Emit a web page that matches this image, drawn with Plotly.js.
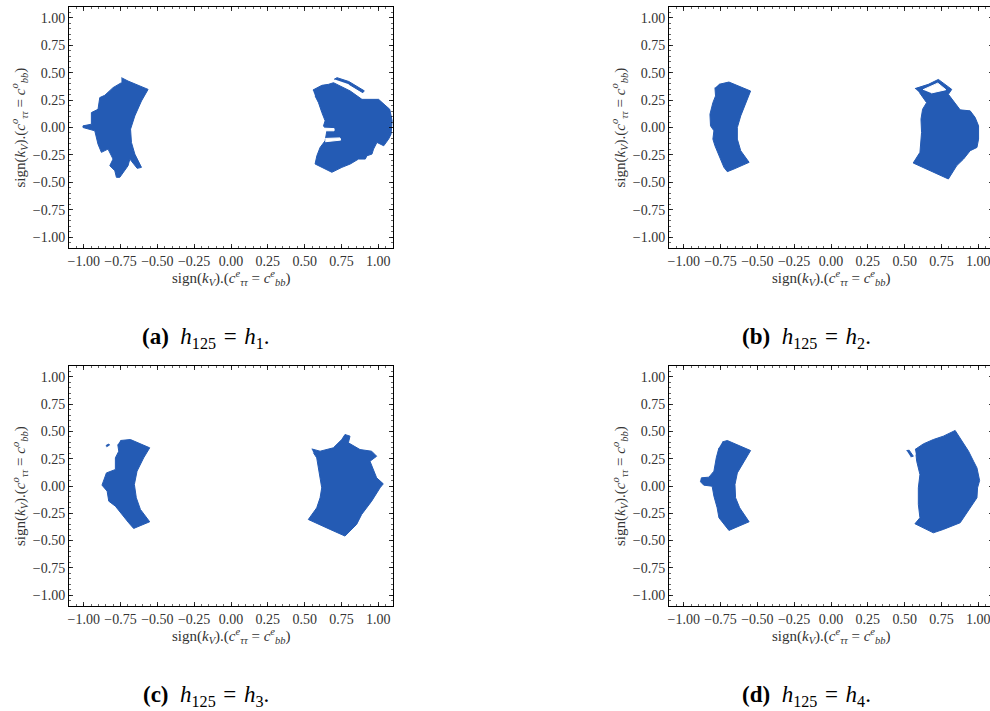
<!DOCTYPE html>
<html>
<head>
<meta charset="utf-8">
<script src="https://cdn.plot.ly/plotly-3.0.1.min.js"></script>
<style>
html,body{margin:0;padding:0;overflow:hidden;background:#fff;}
#chart{width:996px;height:711px;}
</style>
</head>
<body>
<div id="chart"></div>
<script>
// ---- Region outlines (data coordinates) ----
// Panel (a): h125 = h1
const aLeftX  = [-0.744,-0.699,-0.563,-0.608,-0.653,-0.682,-0.676,-0.653,-0.608,-0.637,-0.687,-0.699,-0.755,-0.778,-0.789,-0.812,-0.823,-0.801,-0.835,-0.880,-0.903,-0.925,-1.005,-1.005,-0.948,-0.948,-0.903,-0.891,-0.857,-0.801,-0.744];
const aLeftY  = [0.455,0.424,0.348,0.242,0.106,-0.015,-0.136,-0.243,-0.364,-0.373,-0.288,-0.349,-0.455,-0.455,-0.394,-0.364,-0.349,-0.288,-0.197,-0.227,-0.152,-0.030,0.000,0.015,0.030,0.136,0.166,0.273,0.294,0.364,0.409];
const aRightX = [0.556,0.617,0.662,0.696,0.810,0.889,1.002,1.037,1.078,1.094,1.087,1.070,1.037,0.991,0.968,0.957,0.923,0.912,0.866,0.810,0.753,0.685,0.617,0.571,0.583,0.605,0.639,0.651,0.628,0.639,0.617,0.594,0.571];
const aRightY = [0.342,0.385,0.394,0.409,0.333,0.257,0.257,0.212,0.166,0.061,-0.061,-0.106,-0.167,-0.136,-0.197,-0.243,-0.258,-0.288,-0.288,-0.333,-0.364,-0.409,-0.364,-0.333,-0.258,-0.182,-0.121,-0.030,0.015,0.061,0.136,0.227,0.288];
const aStreakX = [0.700,0.720,0.800,0.905,0.895,0.800];
const aStreakY = [0.440,0.455,0.420,0.335,0.318,0.395];
const aHole1X = [0.615,0.700,0.700,0.615];
const aHole1Y = [-0.005,-0.010,-0.030,-0.030];
const aHole2X = [0.640,0.740,0.745,0.640];
const aHole2Y = [-0.100,-0.095,-0.115,-0.130];

// Panel (b): h125 = h2
const bLeftX  = [-0.761,-0.693,-0.546,-0.579,-0.613,-0.636,-0.636,-0.613,-0.556,-0.659,-0.704,-0.727,-0.761,-0.788,-0.802,-0.795,-0.818,-0.822,-0.802,-0.784,-0.788];
const bLeftY  = [0.394,0.415,0.333,0.227,0.106,0.000,-0.106,-0.212,-0.318,-0.379,-0.403,-0.364,-0.258,-0.167,-0.106,-0.030,0.015,0.121,0.227,0.288,0.364];
const bRightX = [0.570,0.661,0.729,0.820,0.797,0.854,0.877,0.945,0.979,1.002,1.002,0.991,0.945,0.900,0.854,0.797,0.695,0.558,0.604,0.609,0.615,0.611,0.622,0.649,0.627,0.600];
const bRightY = [0.355,0.394,0.439,0.348,0.303,0.197,0.161,0.152,0.091,0.015,-0.106,-0.182,-0.212,-0.288,-0.348,-0.470,-0.409,-0.324,-0.227,-0.136,-0.045,0.076,0.167,0.227,0.273,0.320];
const bHoleX = [0.625,0.725,0.780,0.680];
const bHoleY = [0.345,0.405,0.345,0.315];

// Panel (c): h125 = h3
const cLeftX  = [-0.751,-0.683,-0.552,-0.593,-0.638,-0.656,-0.643,-0.615,-0.552,-0.661,-0.695,-0.740,-0.785,-0.830,-0.841,-0.876,-0.864,-0.846,-0.785,-0.785,-0.762,-0.769];
const cLeftY  = [0.417,0.426,0.350,0.258,0.136,0.014,-0.108,-0.215,-0.328,-0.389,-0.337,-0.261,-0.185,-0.139,-0.047,0.008,0.059,0.120,0.151,0.258,0.319,0.380];
const cDotX = [-0.850,-0.830,-0.825,-0.845];
const cDotY = [0.370,0.385,0.375,0.360];
const cRightX = [0.548,0.605,0.695,0.752,0.774,0.808,0.797,0.876,0.955,0.989,0.944,0.966,0.989,1.034,1.012,0.955,0.921,0.887,0.853,0.808,0.774,0.673,0.525,0.582,0.605,0.616,0.605,0.594,0.582,0.560];
const cRightY = [0.340,0.319,0.350,0.426,0.472,0.457,0.396,0.334,0.319,0.273,0.227,0.151,0.075,0.020,-0.017,-0.139,-0.200,-0.261,-0.352,-0.414,-0.459,-0.398,-0.307,-0.200,-0.108,-0.017,0.075,0.166,0.258,0.304];

// Panel (d): h125 = h4
const dLeftX  = [-0.738,-0.704,-0.546,-0.591,-0.636,-0.652,-0.648,-0.620,-0.556,-0.693,-0.716,-0.761,-0.773,-0.795,-0.807,-0.864,-0.886,-0.880,-0.829,-0.795,-0.779,-0.761];
const dLeftY  = [0.404,0.417,0.325,0.227,0.120,0.014,-0.108,-0.200,-0.328,-0.407,-0.368,-0.291,-0.200,-0.093,-0.002,0.008,0.038,0.075,0.081,0.136,0.258,0.350];
const dRightX = [0.570,0.627,0.695,0.763,0.843,0.877,0.934,0.968,0.991,1.009,0.995,0.991,0.945,0.911,0.877,0.763,0.695,0.570,0.604,0.593,0.593,0.604,0.582,0.577];
const dRightY = [0.334,0.386,0.426,0.457,0.509,0.441,0.319,0.227,0.166,0.050,-0.017,-0.108,-0.200,-0.276,-0.337,-0.398,-0.429,-0.346,-0.291,-0.169,-0.017,0.105,0.227,0.288];
const dStreakX = [0.513,0.531,0.559,0.541];
const dStreakY = [0.325,0.328,0.273,0.267];

const tickValues = [-1.00,-0.75,-0.50,-0.25,0.00,0.25,0.50,0.75,1.00];
const captions = ['(a)','(b)','(c)','(d)'];
const higgsIdx = ['1','2','3','4'];

// ---- Build ----
const BLUE = '#245bb4';
function poly(x, y, ax, color) {
  return {x: x, y: y, xaxis: 'x' + ax, yaxis: 'y' + ax, type: 'scatter', mode: 'lines',
          fill: 'toself', fillcolor: color, line: {color: color, width: 1},
          hoverinfo: 'skip', showlegend: false};
}
const data = [
  poly(aLeftX, aLeftY, '', BLUE), poly(aRightX, aRightY, '', BLUE), poly(aStreakX, aStreakY, '', BLUE),
  poly(aHole1X, aHole1Y, '', '#ffffff'), poly(aHole2X, aHole2Y, '', '#ffffff'),
  poly(bLeftX, bLeftY, '2', BLUE), poly(bRightX, bRightY, '2', BLUE), poly(bHoleX, bHoleY, '2', '#ffffff'),
  poly(cLeftX, cLeftY, '3', BLUE), poly(cDotX, cDotY, '3', BLUE), poly(cRightX, cRightY, '3', BLUE),
  poly(dLeftX, dLeftY, '4', BLUE), poly(dRightX, dRightY, '4', BLUE), poly(dStreakX, dStreakY, '4', BLUE)
];

const W = 996, H = 711;
const FONT = 'Liberation Serif, DejaVu Serif, serif';
const TXT = '#333333';
function axis(domain, anchor) {
  return {
    domain: domain, anchor: anchor, range: [-1.1, 1.1], tickvals: tickValues, tickformat: '.2f',
    ticks: 'inside', ticklen: 4, tickwidth: 0.8, tickcolor: '#000', mirror: 'allticks',
    showline: true, linecolor: '#000', linewidth: 1, showgrid: false, zeroline: false,
    tickfont: {family: FONT, size: 14, color: TXT},
    minor: {dtick: 0.05, tick0: 0, ticks: 'inside', ticklen: 2, tickwidth: 0.6, tickcolor: '#000', showgrid: false}
  };
}
// pixel boxes [left, right, top, bottom]
const boxes = [[69, 393, 7, 248], [669, 993, 7, 248], [69, 393, 366, 606], [669, 993, 366, 606]];
const layout = {width: W, height: H, margin: {l: 0, r: 0, t: 0, b: 0},
  paper_bgcolor: '#fff', plot_bgcolor: '#fff', showlegend: false, annotations: []};
const SP = '\u00a0', GAP = '\u2004';
boxes.forEach((b, i) => {
  const s = i === 0 ? '' : String(i + 1);
  const xd = [b[0] / W, b[1] / W], yd = [1 - b[3] / H, 1 - b[2] / H];
  layout['xaxis' + s] = axis(xd, 'y' + s);
  layout['yaxis' + s] = axis(yd, 'x' + s);
  const cxPx = (b[0] + b[1]) / 2;
  // x-axis title
  layout.annotations.push({xref: 'paper', yref: 'paper', x: cxPx / W, y: 1 - (b[3] + 30) / H,
    xanchor: 'center', yanchor: 'middle', showarrow: false,
    text: 'sign(<i>k</i><sub><i>V</i></sub>).(<i>c</i><sup><i>e</i></sup><sub><i>ττ</i></sub> = <i>c</i><sup><i>e</i></sup><sub><i>bb</i></sub>)',
    font: {family: FONT, size: 15, color: TXT}});
  // y-axis title
  layout.annotations.push({xref: 'paper', yref: 'paper', x: (b[0] - 49) / W, y: (yd[0] + yd[1]) / 2,
    xanchor: 'center', yanchor: 'middle', showarrow: false, textangle: -90,
    text: 'sign(<i>k</i><sub><i>V</i></sub>).(<i>c</i><sup><i>o</i></sup><sub><i>ττ</i></sub> = <i>c</i><sup><i>o</i></sup><sub><i>bb</i></sub>)',
    font: {family: FONT, size: 15, color: TXT}});
  // caption
  layout.annotations.push({xref: 'paper', yref: 'paper', x: (cxPx - 25) / W, y: 1 - (b[3] + 90) / H,
    xanchor: 'center', yanchor: 'middle', showarrow: false,
    text: '<b>' + captions[i] + '</b>' + SP + SP + '<i>h</i><sub>125</sub>' + GAP + '=' + GAP + '<i>h</i><sub>' + higgsIdx[i] + '</sub>.',
    font: {family: FONT, size: 23, color: '#000'}});
});
Plotly.newPlot('chart', data, layout, {staticPlot: true, displayModeBar: false});
</script>
</body>
</html>
